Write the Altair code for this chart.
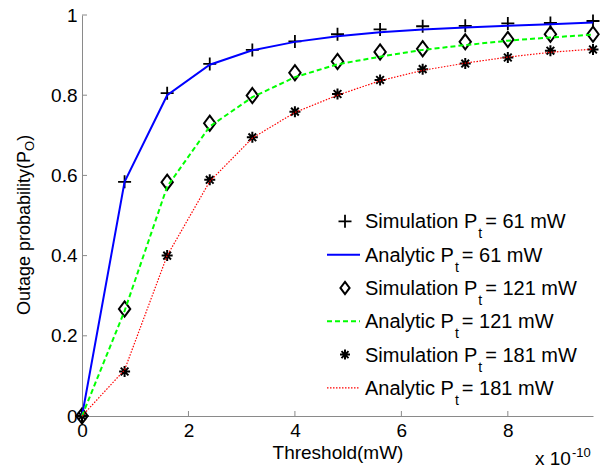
import altair as alt
import pandas as pd

# ---------------- data ----------------
threshold = [0, 0.8, 1.6, 2.4, 3.2, 4.0, 4.8, 5.6, 6.4, 7.2, 8.0, 8.8, 9.6]
sim_61 = [0, 0.584, 0.805, 0.878, 0.913, 0.934, 0.952, 0.964, 0.972, 0.973, 0.979, 0.980, 0.985]
ana_61 = [0, 0.584, 0.800, 0.876, 0.912, 0.933, 0.947, 0.957, 0.964, 0.969, 0.973, 0.977, 0.981]
sim_121 = [0, 0.267, 0.583, 0.730, 0.799, 0.856, 0.884, 0.908, 0.916, 0.933, 0.939, 0.952, 0.952]
ana_121 = [0, 0.262, 0.572, 0.722, 0.795, 0.845, 0.877, 0.896, 0.913, 0.925, 0.936, 0.944, 0.951]
sim_181 = [0, 0.111, 0.400, 0.589, 0.695, 0.759, 0.803, 0.838, 0.865, 0.879, 0.894, 0.911, 0.914]
ana_181 = [0, 0.115, 0.400, 0.585, 0.693, 0.757, 0.800, 0.836, 0.862, 0.880, 0.895, 0.907, 0.915]

x_ticks = [0, 2, 4, 6, 8]
y_ticks = [0, 0.2, 0.4, 0.6, 0.8, 1]

legend_main = ["Simulation P", "Analytic P", "Simulation P", "Analytic P", "Simulation P", "Analytic P"]
legend_sub = ["t", "t", "t", "t", "t", "t"]
legend_rest = ["= 61 mW", "= 61 mW", "= 121 mW", "= 121 mW", "= 181 mW", "= 181 mW"]

x_title = "Threshold(mW)"
y_title_main = "Outage probability(P"
y_title_sub = "O"
y_title_end = ")"
multiplier_base = "x 10"
multiplier_exp = "-10"

# ---------------- layout / style ----------------
FONT = "Liberation Sans"
W, H = 511, 401
AXIS_GREY = "#8a8a8a"
BLUE, GREEN, RED = "#0000ff", "#00ff00", "#ff0000"

PLUS = "M-1,0L1,0M0,-1L0,1"
DIAMOND = "M0,-1L0.75,0L0,1L-0.75,0Z"
STAR = "M-1,0L1,0M0,-1L0,1M-0.7,-0.7L0.7,0.7M-0.7,0.7L0.7,-0.7"

ARIAL = {' ': 278, 'S': 667, 'i': 222, 'm': 833, 'u': 556, 'l': 222, 'a': 556, 't': 278,
         'o': 556, 'n': 556, 'P': 667, 'A': 667, 'y': 500, 'c': 500, '=': 584, 'W': 944,
         'x': 500, '-': 333, 'O': 778, 'g': 556, 'e': 556, 'p': 556, 'r': 333, 'b': 556,
         '(': 333, ')': 333}


def tw(s, size):
    return sum(ARIAL.get(c, 556) for c in s) * size / 1000.0


df = pd.DataFrame({"x": threshold, "s61": sim_61, "a61": ana_61, "s121": sim_121,
                   "a121": ana_121, "s181": sim_181, "a181": ana_181})

xscale = alt.Scale(domain=[0, 9.6], nice=False, zero=False)
yscale = alt.Scale(domain=[0, 1], nice=False)

x_axis = alt.Axis(values=x_ticks, format="~g", ticks=False, grid=False, domainColor=AXIS_GREY,
                  domainWidth=1, labelFont=FONT, labelFontSize=19, labelColor="black",
                  labelPadding=5, labelFlush=False, title=x_title, titleFont=FONT,
                  titleFontSize=19, titleFontWeight="normal", titleColor="black", titlePadding=3)
y_axis = alt.Axis(values=y_ticks, format="~g", ticks=False, grid=False, domainColor=AXIS_GREY,
                  domainWidth=1, labelFont=FONT, labelFontSize=19, labelColor="black",
                  labelPadding=5, labelFlush=False, title=None)


def X(field):
    return alt.X(field, type="quantitative", scale=xscale, axis=x_axis)


def Y(field):
    return alt.Y(field, type="quantitative", scale=yscale, axis=y_axis)


layers = []

# inward tick marks (MATLAB style)
xt = pd.DataFrame({"v": x_ticks})
yt = pd.DataFrame({"v": y_ticks})
layers.append(alt.Chart(xt).mark_rule(color=AXIS_GREY, strokeWidth=1).encode(
    x=X("v"), y=alt.value(H), y2=alt.value(H - 5)))
layers.append(alt.Chart(yt).mark_rule(color=AXIS_GREY, strokeWidth=1).encode(
    y=Y("v"), x=alt.value(0), x2=alt.value(5)))

# simulation markers
for field, shape, size, sw in [("s61", PLUS, 169, 1.8), ("s121", DIAMOND, 230, 2.0),
                               ("s181", STAR, 121, 2.0)]:
    layers.append(alt.Chart(df).mark_point(shape=shape, filled=False, color="black", size=size,
                                           strokeWidth=sw, opacity=1).encode(x=X("x"), y=Y(field)))

# analytic lines
layers.append(alt.Chart(df).mark_line(color=BLUE, strokeWidth=2).encode(x=X("x"), y=Y("a61")))
layers.append(alt.Chart(df).mark_line(color=GREEN, strokeWidth=2, strokeDash=[5, 3]).encode(
    x=X("x"), y=Y("a121")))
layers.append(alt.Chart(df).mark_line(color=RED, strokeWidth=1.2, strokeDash=[1.5, 1.5]).encode(
    x=X("x"), y=Y("a181")))

# ---------------- legend (drawn by hand, MATLAB style) ----------------
ROW0, STEP = 213.3, 33.33     # baseline of first legend row (plot coords)
TEXT_X = 283.0
SYM_X = 263.0
LINE_X0, LINE_X1 = 245.0, 278.0

leg_rows = []
for i, (m, s, r) in enumerate(zip(legend_main, legend_sub, legend_rest)):
    base = ROW0 + STEP * i
    sub_x = TEXT_X + tw(m, 20) + 1
    rest_x = sub_x + tw(s, 14) + 3
    leg_rows.append({"main": m, "sub": s, "rest": r, "yb": base, "ys": base + 10,
                     "xm": TEXT_X, "xs": sub_x, "xr": rest_x, "yc": base - 7})
leg = pd.DataFrame(leg_rows)

layers.append(alt.Chart(leg).mark_text(font=FONT, fontSize=20, align="left", baseline="alphabetic",
                                       color="black").encode(
    x=alt.X("xm:Q", scale=None), y=alt.Y("yb:Q", scale=None), text="main:N"))
layers.append(alt.Chart(leg).mark_text(font=FONT, fontSize=14, align="left", baseline="alphabetic",
                                       color="black").encode(
    x=alt.X("xs:Q", scale=None), y=alt.Y("ys:Q", scale=None), text="sub:N"))
layers.append(alt.Chart(leg).mark_text(font=FONT, fontSize=20, align="left", baseline="alphabetic",
                                       color="black").encode(
    x=alt.X("xr:Q", scale=None), y=alt.Y("yb:Q", scale=None), text="rest:N"))

sym_specs = [(0, PLUS, 169, 1.8), (2, DIAMOND, 150, 2.0), (4, STAR, 100, 2.0)]
for row, shape, size, sw in sym_specs:
    layers.append(alt.Chart(leg.iloc[[row]]).mark_point(shape=shape, filled=False, color="black",
                                                       size=size, strokeWidth=sw, opacity=1).encode(
        x=alt.value(SYM_X), y=alt.Y("yc:Q", scale=None)))

line_specs = [(1, BLUE, 2, None), (3, GREEN, 2, [5, 3]), (5, RED, 1.2, [1.5, 1.5])]
for row, col, sw, dash in line_specs:
    kw = dict(color=col, strokeWidth=sw)
    if dash:
        kw["strokeDash"] = dash
    layers.append(alt.Chart(leg.iloc[[row]]).mark_rule(**kw).encode(
        x=alt.value(LINE_X0), x2=alt.value(LINE_X1), y=alt.Y("yc:Q", scale=None)))

# ---------------- y title with subscript (rotated) ----------------
yt_base_x = 30 - 82
yt_start = 300.0
y_main_len = tw(y_title_main, 18)
y_sub_len = tw(y_title_sub, 13)
ytitle = pd.DataFrame({
    "t": [y_title_main, y_title_sub, y_title_end],
    "xp": [yt_base_x, yt_base_x + 4, yt_base_x],
    "yp": [yt_start, yt_start - y_main_len, yt_start - y_main_len - y_sub_len],
    "fs": [18, 13, 18],
})
for i in range(3):
    layers.append(alt.Chart(ytitle.iloc[[i]]).mark_text(
        font=FONT, fontSize=int(ytitle.fs[i]), angle=270, align="left", baseline="alphabetic",
        color="black").encode(x=alt.X("xp:Q", scale=None), y=alt.Y("yp:Q", scale=None), text="t:N"))

# ---------------- x 10^-10 multiplier ----------------
mult = pd.DataFrame({"t": [multiplier_base, multiplier_exp],
                     "xp": [453.0, 453.0 + tw(multiplier_base, 19) + 1],
                     "yp": [450.0, 441.5]})
layers.append(alt.Chart(mult.iloc[[0]]).mark_text(font=FONT, fontSize=19, align="left",
                                                  baseline="alphabetic", color="black").encode(
    x=alt.X("xp:Q", scale=None), y=alt.Y("yp:Q", scale=None), text="t:N"))
layers.append(alt.Chart(mult.iloc[[1]]).mark_text(font=FONT, fontSize=13, align="left",
                                                  baseline="alphabetic", color="black").encode(
    x=alt.X("xp:Q", scale=None), y=alt.Y("yp:Q", scale=None), text="t:N"))

chart = alt.layer(*layers).properties(
    width=W, height=H,
    autosize=alt.AutoSizeParams(type="none"),
    padding={"left": 82, "top": 15, "right": 18, "bottom": 57},
    background="white",
).configure_view(stroke=None)

chart.save("out.html", embed_options={"renderer": "svg", "actions": False})
